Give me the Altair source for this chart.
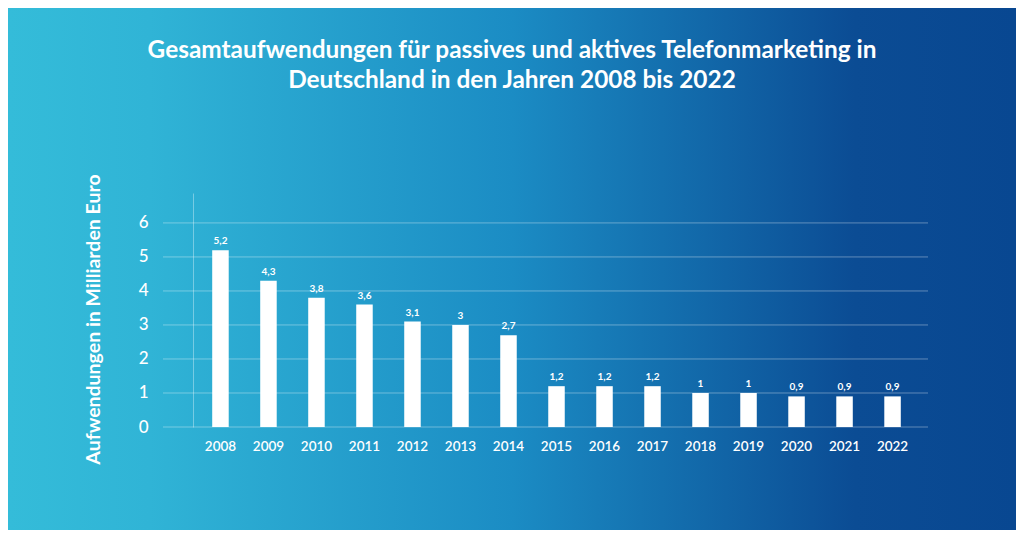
import altair as alt
import pandas as pd

years = ["2008", "2009", "2010", "2011", "2012", "2013", "2014", "2015",
         "2016", "2017", "2018", "2019", "2020", "2021", "2022"]
values = [5.2, 4.3, 3.8, 3.6, 3.1, 3.0, 2.7, 1.2, 1.2, 1.2, 1.0, 1.0, 0.9, 0.9, 0.9]
grid_values = [0, 1, 2, 3, 4, 5, 6]
title_lines = ["Gesamtaufwendungen für passives und aktives Telefonmarketing in",
               "Deutschland in den Jahren 2008 bis 2022"]
y_title = "Aufwendungen in Milliarden Euro"

W, H = 727, 234
PL, PT, PR, PB = 185, 185, 96, 103
FONT = "Lato"

df = pd.DataFrame({"year": years, "value": values})
grid_df = pd.DataFrame({"value": grid_values})

xscale = alt.Scale(paddingInner=0.656, paddingOuter=0.40)
yscale = alt.Scale(domain=[0, 6.88], nice=False, zero=True)

xaxis = alt.Axis(title=None, labelAngle=0, labelColor="white",
                 labelFont=FONT, labelFontSize=13.5, labelFontWeight=600,
                 labelPadding=12, domain=False, ticks=False, grid=False,
                 labelOverlap=False, zindex=2)
yaxis = alt.Axis(values=grid_values, title=y_title, grid=False,
                 ticks=False, labelPadding=45, labelColor="white",
                 labelFont=FONT, labelFontSize=17, labelFontWeight=500,
                 labelOverlap=False, tickCount=7,
                 domain=True, domainColor="white", domainOpacity=0.35,
                 titleColor="white", titleFont=FONT, titleFontSize=19.5,
                 titleFontWeight="bold", titleX=-100, titleY=126,
                 titleBaseline="middle", titleAngle=-90, zindex=2)

gradient = alt.LinearGradient(
    gradient="linear", x1=0, x2=1, y1=0, y2=0,
    stops=[
        alt.GradientStop(offset=0.0, color="#34bcd9"),
        alt.GradientStop(offset=0.14, color="#30b4d6"),
        alt.GradientStop(offset=0.50, color="#1b8cc4"),
        alt.GradientStop(offset=0.84, color="#0b4c94"),
        alt.GradientStop(offset=1.0, color="#084791"),
    ],
)

bg = alt.Chart(pd.DataFrame({"a": [0]})).mark_rect(color=gradient).encode(
    x=alt.value(-PL), x2=alt.value(W + PR),
    y=alt.value(-PT), y2=alt.value(H + PB),
)

grid = alt.Chart(grid_df).mark_rule(color="white", opacity=0.35, strokeWidth=1).encode(
    y=alt.Y("value:Q", scale=yscale, axis=yaxis),
    x=alt.value(-30), x2=alt.value(735),
)

bars = alt.Chart(df).mark_bar(color="white").encode(
    x=alt.X("year:N", scale=xscale, sort=years, axis=xaxis),
    y=alt.Y("value:Q", scale=yscale, axis=yaxis),
)

labels = alt.Chart(df).transform_calculate(
    lbl="replace(toString(datum.value), '.', ',')"
).mark_text(color="white", font=FONT, fontSize=10, fontWeight="bold",
            dy=-9, baseline="middle").encode(
    x=alt.X("year:N", scale=xscale, sort=years, axis=xaxis),
    y=alt.Y("value:Q", scale=yscale, axis=yaxis),
    text="lbl:N",
)

t1 = alt.Chart(pd.DataFrame({"a": [0]})).mark_text(
    color="white", font=FONT, fontSize=24.4, fontWeight="bold",
    align="center", baseline="middle").encode(
    x=alt.value(319), y=alt.value(-142), text=alt.value(title_lines[0]))
t2 = alt.Chart(pd.DataFrame({"a": [0]})).mark_text(
    color="white", font=FONT, fontSize=24.4, fontWeight="bold",
    align="center", baseline="middle").encode(
    x=alt.value(319), y=alt.value(-112), text=alt.value(title_lines[1]))

chart = alt.layer(bg, grid, bars, labels, t1, t2).properties(
    width=W, height=H,
    autosize=alt.AutoSizeParams(type="none"),
    padding={"left": PL, "top": PT, "right": PR, "bottom": PB},
).configure_view(stroke=None).configure(background="#34bcd9")

chart.save("out.html", embed_options={"renderer": "svg", "actions": False})
